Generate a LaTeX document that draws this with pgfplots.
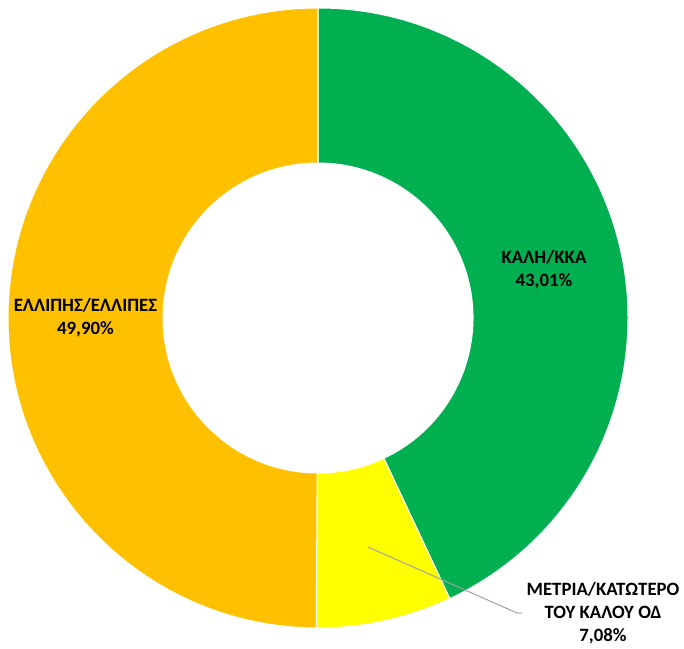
\documentclass[border=0pt]{standalone}
\usepackage{fontspec}
\setmainfont{Carlito}
\usepackage{pgfplots}
\usepackage{pgfplotstable}
\pgfplotsset{compat=1.18}
\definecolor{cgreen}{HTML}{00B050}
\definecolor{cyellow}{HTML}{FFFF00}
\definecolor{corange}{HTML}{FFC000}
\definecolor{cgray}{HTML}{A0A0A0}
\pgfplotstableread{
label value
kalh 43.01
metria 7.08
ellipis 49.90
}\datatable
\begin{document}
\begin{tikzpicture}
\pgfplotstablegetelem{0}{value}\of\datatable \let\va\pgfplotsretval
\pgfplotstablegetelem{1}{value}\of\datatable \let\vb\pgfplotsretval
\pgfplotstablegetelem{2}{value}\of\datatable \let\vc\pgfplotsretval
\pgfmathsetmacro{\aA}{90}
\pgfmathsetmacro{\aB}{90-3.6*\va}
\pgfmathsetmacro{\aC}{\aB-3.6*\vb}
\pgfmathsetmacro{\aD}{\aC-3.6*\vc}
\begin{axis}[x=1pt,y=1pt,xmin=0,xmax=684,ymin=0,ymax=648,hide axis,clip=false]
\path (axis cs:0,0) rectangle (axis cs:684,648);
\coordinate (O) at (axis cs:318,330);
\fill[cgreen,draw=white,line width=1pt] (O) ++(\aA:310pt) arc[start angle=\aA,end angle=\aB,radius=310pt] -- ([shift={(\aB:155pt)}]O) arc[start angle=\aB,end angle=\aA,radius=155pt] -- cycle;
\fill[cyellow,draw=white,line width=1pt] (O) ++(\aB:310pt) arc[start angle=\aB,end angle=\aC,radius=310pt] -- ([shift={(\aC:155pt)}]O) arc[start angle=\aC,end angle=\aB,radius=155pt] -- cycle;
\fill[corange,draw=white,line width=1pt] (O) ++(\aC:310pt) arc[start angle=\aC,end angle=\aD,radius=310pt] -- ([shift={(\aD:155pt)}]O) arc[start angle=\aD,end angle=\aC,radius=155pt] -- cycle;
\draw[cgray,line width=1pt] (axis cs:368,101) -- (axis cs:517,35) -- (axis cs:522,35);
\node[align=center,font=\bfseries\fontsize{18.8}{23}\selectfont] at (axis cs:544,378) {ΚΑΛΗ/ΚΚΑ\\43,01\%};
\node[align=center,font=\bfseries\fontsize{18.8}{23}\selectfont] at (axis cs:85.5,330) {ΕΛΛΙΠΗΣ/ΕΛΛΙΠΕΣ\\49,90\%};
\node[align=center,font=\bfseries\fontsize{18.8}{23}\selectfont] at (axis cs:603,35) {ΜΕΤΡΙΑ/ΚΑΤΩΤΕΡΟ\\ΤΟΥ ΚΑΛΟΥ ΟΔ\\7,08\%};
\end{axis}
\end{tikzpicture}
\end{document}
